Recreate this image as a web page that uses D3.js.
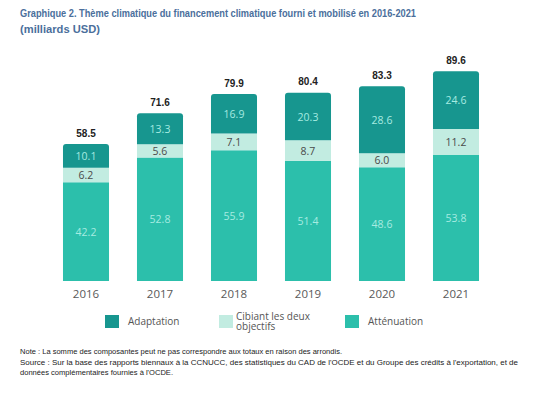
<!DOCTYPE html>
<html>
<head>
<meta charset="utf-8">
<script src="https://cdn.jsdelivr.net/npm/d3@7"></script>
<style>
  body { margin: 0; background: #fff; }
  svg { display: block; }
</style>
</head>
<body>
<div id="plot"></div>
<script>
// data
const years = ["2016", "2017", "2018", "2019", "2020", "2021"];
const attenuation = [42.2, 52.8, 55.9, 51.4, 48.6, 53.8];
const deuxObjectifs = [6.2, 5.6, 7.1, 8.7, 6.0, 11.2];
const adaptation = [10.1, 13.3, 16.9, 20.3, 28.6, 24.6];
const totals = [58.5, 71.6, 79.9, 80.4, 83.3, 89.6];

const w = 537;
const h = 394;
const margin = {top: 40, right: 50, bottom: 113, left: 52};
const innerWidth = w - margin.left - margin.right;
const innerHeight = h - margin.top - margin.bottom;

const colAdapt = "#17968f";
const colBoth = "#c2ece1";
const colAtt = "#2cbfab";

const svg = d3.select("div#plot")
  .append("svg")
    .attr("width", w)
    .attr("height", h);

// title
svg.append("text")
  .attr("x", 20).attr("y", 17)
  .attr("font-family", "Liberation Sans, Arial, sans-serif")
  .attr("font-weight", "bold")
  .attr("font-size", 11)
  .attr("fill", "#4b6f9c")
  .attr("textLength", 396)
  .attr("lengthAdjust", "spacingAndGlyphs")
  .text("Graphique 2. Thème climatique du financement climatique fourni et mobilisé en 2016-2021");
svg.append("text")
  .attr("x", 20).attr("y", 33)
  .attr("font-family", "Liberation Sans, Arial, sans-serif")
  .attr("font-weight", "bold")
  .attr("font-size", 11)
  .attr("fill", "#4b6f9c")
  .attr("textLength", 80)
  .attr("lengthAdjust", "spacingAndGlyphs")
  .text("(milliards USD)");

const g = svg.append("g")
  .attr("transform", `translate(${margin.left}, ${margin.top})`);

const xScale = d3.scaleBand()
  .domain(years)
  .range([-3, 441])
  .paddingInner(0.378)
  .paddingOuter(0.189);

const yScale = d3.scaleLinear()
  .domain([0, 100])
  .range([innerHeight, innerHeight - 234]);

// stack the series
const rows = years.map((y, i) => ({
  year: y,
  att: attenuation[i],
  both: deuxObjectifs[i],
  adapt: adaptation[i]
}));
const keys = ["att", "both", "adapt"];
const colors = {att: colAtt, both: colBoth, adapt: colAdapt};
const labelColors = {att: "#a6ebe1", both: "#4a4a4a", adapt: "#a6ebe1"};
const series = d3.stack().keys(keys)(rows);

const r = 3;
const bw = xScale.bandwidth();

series.forEach(s => {
  const key = s.key;
  g.selectAll("path.seg-" + key)
    .data(s)
    .enter()
    .append("path")
      .attr("class", "seg-" + key)
      .attr("fill", colors[key])
      .attr("d", d => {
        const x0 = xScale(d.data.year);
        const yTop = yScale(d[1]);
        const yBot = yScale(d[0]);
        if (key === "adapt") {
          return `M${x0},${yBot}V${yTop + r}Q${x0},${yTop} ${x0 + r},${yTop}` +
                 `H${x0 + bw - r}Q${x0 + bw},${yTop} ${x0 + bw},${yTop + r}V${yBot}Z`;
        }
        return `M${x0},${yBot}V${yTop}H${x0 + bw}V${yBot}Z`;
      });

  g.selectAll("text.lab-" + key)
    .data(s)
    .enter()
    .append("text")
      .attr("class", "lab-" + key)
      .attr("x", d => xScale(d.data.year) + bw / 2)
      .attr("y", d => (yScale(d[0]) + yScale(d[1])) / 2 + 4)
      .attr("text-anchor", "middle")
      .attr("font-family", "Open Sans, sans-serif")
      .attr("font-size", 10.5)
      .attr("fill", labelColors[key])
      .text(d => d.data[key].toFixed(1));
});

// totals
g.selectAll("text.total")
  .data(rows)
  .enter()
  .append("text")
    .attr("class", "total")
    .attr("x", d => xScale(d.year) + bw / 2)
    .attr("y", (d, i) => yScale(totals[i]) - 7.5)
    .attr("text-anchor", "middle")
    .attr("font-family", "Liberation Sans, Arial, sans-serif")
    .attr("font-weight", "bold")
    .attr("font-size", 10)
    .attr("fill", "#222")
    .text((d, i) => totals[i].toFixed(1));

// x axis
const xAxis = d3.axisBottom(xScale).tickSize(0).tickPadding(9);
const xg = g.append("g")
  .attr("transform", `translate(0, ${innerHeight})`)
  .call(xAxis);
xg.select(".domain").remove();
xg.selectAll("text")
  .attr("font-family", "Open Sans, sans-serif")
  .attr("font-size", 11.5)
  .attr("fill", "#595959");

// legend
const legendItems = [
  {lab: ["Adaptation"], col: colAdapt, x: 105},
  {lab: ["Cibiant les deux", "objectifs"], col: colBoth, x: 219},
  {lab: ["Atténuation"], col: colAtt, x: 345}
];
const lg = svg.append("g");
legendItems.forEach(it => {
  lg.append("rect")
    .attr("x", it.x).attr("y", 315)
    .attr("width", 14).attr("height", 13)
    .attr("fill", it.col);
  const t = lg.append("text")
    .attr("font-family", "Open Sans, sans-serif")
    .attr("font-size", 10)
    .attr("fill", "#555");
  if (it.lab.length === 1) {
    t.append("tspan").attr("x", it.x + 23).attr("y", 325).text(it.lab[0]);
  } else {
    t.append("tspan").attr("x", it.x + 17).attr("y", 320).text(it.lab[0]);
    t.append("tspan").attr("x", it.x + 17).attr("y", 329.5).text(it.lab[1]);
  }
});

// notes
const notes = [
  {t: "Note : La somme des composantes peut ne pas correspondre aux totaux en raison des arrondis.", len: 322},
  {t: "Source : Sur la base des rapports biennaux à la CCNUCC, des statistiques du CAD de l'OCDE et du Groupe des crédits à l'exportation, et de", len: 498},
  {t: "données complémentaires fournies à l'OCDE.", len: 153}
];
svg.selectAll("text.note")
  .data(notes)
  .enter()
  .append("text")
    .attr("class", "note")
    .attr("x", 20)
    .attr("y", (d, i) => 354 + i * 10.5)
    .attr("font-family", "Liberation Sans, Arial, sans-serif")
    .attr("font-size", 7.5)
    .attr("fill", "#222")
    .attr("textLength", d => d.len)
    .attr("lengthAdjust", "spacingAndGlyphs")
    .text(d => d.t);
</script>
</body>
</html>
